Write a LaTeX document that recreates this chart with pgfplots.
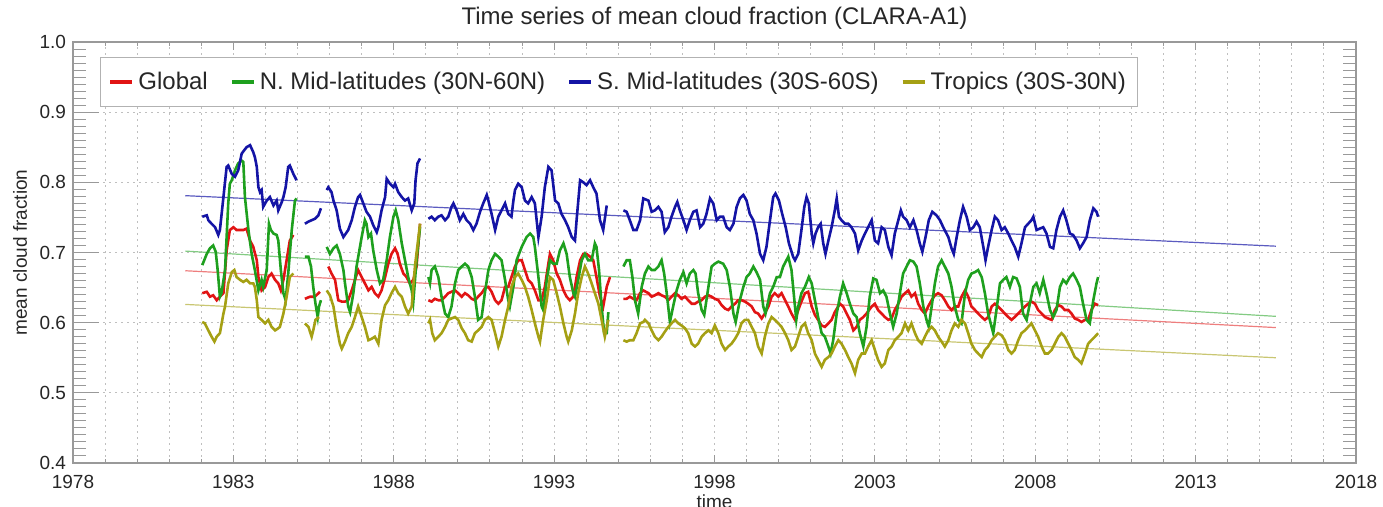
\documentclass[border=0pt]{standalone}
\usepackage{fontspec}
\setmainfont{Liberation Sans}
\usepackage{pgfplots}
\pgfplotsset{compat=1.18}
\definecolor{cred}{RGB}{225,20,20}
\definecolor{cgreen}{RGB}{30,160,30}
\definecolor{cblue}{RGB}{20,20,165}
\definecolor{colive}{RGB}{165,160,20}
\begin{document}
\begin{tikzpicture}
\begin{axis}[
  scale only axis, width=641.5pt, height=210.5pt,
  xmin=1978, xmax=2018, ymin=0.4, ymax=1.0,
  xtick={1978,1983,1988,1993,1998,2003,2008,2013,2018},
  minor x tick num=4,
  ytick={0.4,0.5,0.6,0.7,0.8,0.9,1.0},
  minor y tick num=9,
  xmajorgrids, xminorgrids, ymajorgrids,
  grid style={gray!50, dash pattern=on 1pt off 2pt, line width=0.5pt},
  minor grid style={gray!50, dash pattern=on 1pt off 2pt, line width=0.5pt},
  major tick length=13pt, minor tick length=6.5pt,
  xtick style={/pgfplots/major tick length=4pt, /pgfplots/minor tick length=2pt},
  tick style={gray!80, line width=0.5pt},
  axis line style={gray!80, line width=0.6pt},
  /pgf/number format/assume math mode=true,
  tick label style={font=\fontsize{9.5}{11}\selectfont, text=black!85},
  yticklabel style={/pgf/number format/.cd, fixed, fixed zerofill, precision=1},
  xticklabel style={yshift=-2.5pt, /pgf/number format/.cd, set thousands separator={}},
  every axis title shift=0pt,
  title={Time series of mean cloud fraction (CLARA-A1)},
  title style={font=\fontsize{12}{14}\selectfont, text=black!85, at={([yshift=11.75pt]axis description cs:0.5,1)}, anchor=center},
  ylabel={mean cloud fraction},
  ylabel style={font=\fontsize{9.5}{11}\selectfont, text=black!85, at={([xshift=-26.5pt]axis description cs:0,0.5)}, anchor=center},
  xlabel={time},
  xlabel style={font=\fontsize{9.5}{11}\selectfont, text=black!85, at={([yshift=-19.5pt]axis description cs:0.5,0)}, anchor=center},
  unbounded coords=jump,
  legend columns=4,
  legend style={at={(0.021,0.964)}, anchor=north west, draw=gray!60, line width=0.5pt,
    font=\fontsize{12}{14}\selectfont, text=black!85, inner xsep=4pt, inner ysep=5pt,
    /tikz/every even column/.append style={column sep=9pt}},
  legend image code/.code={\draw[#1, line width=2pt] (0pt,0pt) -- (11pt,0pt);},
]
% trend lines
\addplot[cred!55, line width=0.6pt, forget plot] coordinates {(1981.5,0.674) (2015.5,0.593)};
\addplot[cgreen!55, line width=0.6pt, forget plot] coordinates {(1981.5,0.702) (2015.5,0.609)};
\addplot[cblue!70, line width=0.6pt, forget plot] coordinates {(1981.5,0.781) (2015.5,0.709)};
\addplot[colive!60, line width=0.6pt, forget plot] coordinates {(1981.5,0.626) (2015.5,0.550)};

% Global
\addplot[cred, line width=1.3pt] coordinates {
(1982.03,0.642) (1982.17,0.644) (1982.27,0.637) (1982.37,0.639) (1982.48,0.632) (1982.58,0.637) (1982.69,0.642) (1982.79,0.703) (1982.89,0.732) (1983.00,0.736) (1983.10,0.732) (1983.21,0.732) (1983.31,0.732) (1983.41,0.734) (1983.52,0.717) (1983.62,0.708) (1983.73,0.689) (1983.78,0.665) (1983.88,0.646) (1983.99,0.651) (1984.09,0.665) (1984.19,0.670) (1984.30,0.661) (1984.40,0.656) (1984.48,0.646) (1984.56,0.661) (1984.66,0.689) (1984.76,0.717) (1984.87,0.725)
(1985.1,nan)
(1985.23,0.634) (1985.39,0.637) (1985.54,0.637) (1985.70,0.644)
(1985.8,nan)
(1985.96,0.680) (1986.06,0.670) (1986.17,0.661) (1986.27,0.632) (1986.38,0.630) (1986.48,0.630) (1986.58,0.632) (1986.69,0.646) (1986.79,0.661) (1986.89,0.675) (1987.00,0.665) (1987.10,0.656) (1987.21,0.646) (1987.31,0.651) (1987.41,0.642) (1987.52,0.637) (1987.62,0.646) (1987.73,0.665) (1987.83,0.684) (1987.93,0.698) (1988.04,0.706) (1988.12,0.698) (1988.19,0.684) (1988.30,0.670) (1988.40,0.665) (1988.50,0.656) (1988.61,0.661) (1988.71,0.680) (1988.82,0.741)
(1988.95,nan)
(1989.08,0.632) (1989.18,0.630) (1989.28,0.634) (1989.39,0.632) (1989.49,0.632) (1989.60,0.637) (1989.70,0.642) (1989.80,0.644) (1989.91,0.646) (1990.01,0.642) (1990.12,0.637) (1990.22,0.642) (1990.32,0.639) (1990.43,0.634) (1990.53,0.632) (1990.63,0.637) (1990.74,0.642) (1990.84,0.649) (1990.95,0.651) (1991.05,0.644) (1991.16,0.632) (1991.26,0.627) (1991.36,0.632) (1991.47,0.651) (1991.57,0.651) (1991.67,0.665) (1991.78,0.680) (1991.88,0.689) (1991.99,0.689) (1992.09,0.675) (1992.19,0.661) (1992.30,0.656) (1992.40,0.646) (1992.51,0.632) (1992.61,0.632) (1992.71,0.651) (1992.82,0.684) (1992.87,0.698) (1992.97,0.689) (1993.08,0.670) (1993.18,0.661) (1993.29,0.646) (1993.39,0.637) (1993.49,0.632) (1993.60,0.637) (1993.70,0.665) (1993.81,0.689) (1993.91,0.698) (1994.01,0.698) (1994.12,0.694) (1994.22,0.689) (1994.32,0.665) (1994.43,0.637) (1994.53,0.623) (1994.64,0.651) (1994.74,0.665)
(1994.9,nan)
(1995.16,0.634) (1995.26,0.634) (1995.36,0.637) (1995.47,0.634) (1995.57,0.632) (1995.68,0.642) (1995.78,0.646) (1995.94,0.642) (1996.04,0.637) (1996.14,0.639) (1996.25,0.642) (1996.35,0.639) (1996.45,0.637) (1996.56,0.632) (1996.66,0.637) (1996.77,0.642) (1996.87,0.639) (1996.97,0.634) (1997.08,0.637) (1997.18,0.632) (1997.29,0.627) (1997.39,0.627) (1997.49,0.630) (1997.60,0.632) (1997.70,0.637) (1997.81,0.639) (1997.91,0.637) (1998.01,0.634) (1998.12,0.632) (1998.22,0.625) (1998.33,0.620) (1998.43,0.618) (1998.53,0.623) (1998.64,0.627) (1998.74,0.632) (1998.84,0.632) (1998.95,0.630) (1999.05,0.627) (1999.16,0.623) (1999.26,0.615) (1999.36,0.613) (1999.47,0.606) (1999.57,0.613) (1999.68,0.623) (1999.78,0.637) (1999.88,0.642) (1999.99,0.637) (2000.09,0.642) (2000.20,0.632) (2000.30,0.623) (2000.40,0.613) (2000.51,0.604) (2000.61,0.618) (2000.71,0.630) (2000.82,0.642) (2000.92,0.644) (2001.03,0.623) (2001.13,0.611) (2001.23,0.604) (2001.34,0.596) (2001.44,0.594) (2001.55,0.599) (2001.65,0.604) (2001.75,0.615) (2001.91,0.627) (2002.01,0.623) (2002.12,0.613) (2002.22,0.604) (2002.33,0.589) (2002.43,0.594) (2002.53,0.604) (2002.64,0.608) (2002.74,0.613) (2002.90,0.623) (2003.00,0.627) (2003.10,0.618) (2003.21,0.613) (2003.31,0.608) (2003.42,0.604) (2003.52,0.606) (2003.62,0.618) (2003.73,0.627) (2003.83,0.637) (2003.94,0.642) (2004.04,0.646) (2004.14,0.637) (2004.25,0.642) (2004.35,0.627) (2004.46,0.618) (2004.56,0.613) (2004.66,0.623) (2004.77,0.632) (2004.87,0.639) (2004.97,0.642) (2005.08,0.639) (2005.18,0.632) (2005.29,0.623) (2005.39,0.618) (2005.49,0.623) (2005.60,0.623) (2005.70,0.637) (2005.81,0.646) (2005.91,0.637) (2006.01,0.623) (2006.12,0.618) (2006.22,0.613) (2006.33,0.608) (2006.43,0.604) (2006.53,0.608) (2006.64,0.623) (2006.74,0.627) (2006.84,0.623) (2006.95,0.618) (2007.05,0.613) (2007.16,0.608) (2007.26,0.604) (2007.36,0.608) (2007.47,0.613) (2007.57,0.618) (2007.68,0.623) (2007.78,0.627) (2007.88,0.630) (2007.99,0.627) (2008.09,0.618) (2008.20,0.613) (2008.30,0.608) (2008.40,0.606) (2008.51,0.604) (2008.61,0.618) (2008.72,0.625) (2008.82,0.623) (2008.92,0.618) (2009.03,0.618) (2009.13,0.613) (2009.23,0.606) (2009.34,0.604) (2009.44,0.601) (2009.55,0.604) (2009.65,0.604) (2009.75,0.618) (2009.86,0.627) (2009.96,0.625)
};
\addlegendentry{Global}

% N. Mid-latitudes
\addplot[cgreen, line width=1.3pt] coordinates {
(1982.03,0.682) (1982.17,0.698) (1982.27,0.706) (1982.37,0.710) (1982.45,0.701) (1982.51,0.675) (1982.58,0.637) (1982.63,0.642) (1982.74,0.675) (1982.84,0.770) (1982.89,0.798) (1982.95,0.803) (1983.05,0.817) (1983.15,0.827) (1983.26,0.831) (1983.31,0.829) (1983.36,0.779) (1983.47,0.732) (1983.57,0.698) (1983.67,0.675) (1983.78,0.646) (1983.88,0.661) (1983.93,0.651) (1984.04,0.675) (1984.11,0.741) (1984.17,0.732) (1984.25,0.727) (1984.35,0.725) (1984.40,0.717) (1984.48,0.675) (1984.56,0.642) (1984.63,0.632) (1984.71,0.670) (1984.82,0.732) (1984.92,0.774) (1984.97,0.777)
(1985.1,nan)
(1985.23,0.694) (1985.34,0.694) (1985.42,0.680) (1985.49,0.651) (1985.56,0.627) (1985.63,0.608) (1985.67,0.623) (1985.73,0.632)
(1985.8,nan)
(1985.91,0.708) (1986.01,0.698) (1986.12,0.706) (1986.22,0.710) (1986.32,0.698) (1986.43,0.675) (1986.48,0.656) (1986.58,0.623) (1986.64,0.615) (1986.74,0.642) (1986.84,0.680) (1987.00,0.722) (1987.10,0.746) (1987.15,0.741) (1987.21,0.722) (1987.29,0.727) (1987.36,0.703) (1987.47,0.675) (1987.57,0.656) (1987.67,0.661) (1987.78,0.689) (1987.88,0.722) (1987.99,0.751) (1988.06,0.760) (1988.14,0.746) (1988.25,0.713) (1988.35,0.689) (1988.45,0.665) (1988.56,0.646) (1988.61,0.630) (1988.71,0.689) (1988.82,0.736)
(1988.95,nan)
(1989.08,0.665) (1989.13,0.656) (1989.18,0.675) (1989.28,0.680) (1989.39,0.665) (1989.49,0.637) (1989.60,0.613) (1989.70,0.608) (1989.80,0.623) (1989.91,0.656) (1990.01,0.675) (1990.12,0.680) (1990.22,0.684) (1990.32,0.680) (1990.43,0.665) (1990.53,0.637) (1990.63,0.604) (1990.74,0.608) (1990.84,0.642) (1990.95,0.675) (1991.05,0.689) (1991.16,0.698) (1991.26,0.694) (1991.36,0.689) (1991.47,0.661) (1991.57,0.632) (1991.62,0.623) (1991.73,0.651) (1991.83,0.689) (1991.99,0.708) (1992.14,0.722) (1992.25,0.727) (1992.35,0.722) (1992.40,0.708) (1992.51,0.665) (1992.61,0.623) (1992.66,0.618) (1992.77,0.661) (1992.87,0.689) (1992.97,0.684) (1993.08,0.684) (1993.18,0.703) (1993.29,0.713) (1993.39,0.698) (1993.49,0.665) (1993.60,0.642) (1993.65,0.637) (1993.75,0.661) (1993.86,0.689) (1993.96,0.698) (1994.06,0.689) (1994.17,0.689) (1994.27,0.713) (1994.32,0.708) (1994.40,0.675) (1994.48,0.623) (1994.56,0.585) (1994.64,0.585) (1994.69,0.615)
(1994.9,nan)
(1995.16,0.680) (1995.26,0.689) (1995.36,0.689) (1995.44,0.665) (1995.52,0.632) (1995.62,0.613) (1995.73,0.651) (1995.83,0.670) (1995.94,0.680) (1996.04,0.675) (1996.14,0.675) (1996.25,0.680) (1996.35,0.689) (1996.43,0.670) (1996.51,0.642) (1996.61,0.601) (1996.71,0.623) (1996.82,0.646) (1996.92,0.661) (1997.03,0.672) (1997.13,0.656) (1997.23,0.670) (1997.34,0.675) (1997.41,0.670) (1997.49,0.642) (1997.60,0.618) (1997.68,0.611) (1997.81,0.651) (1997.91,0.680) (1998.01,0.684) (1998.12,0.687) (1998.27,0.684) (1998.38,0.675) (1998.48,0.651) (1998.59,0.613) (1998.66,0.601) (1998.79,0.632) (1998.90,0.651) (1999.00,0.665) (1999.10,0.670) (1999.21,0.680) (1999.31,0.672) (1999.42,0.661) (1999.52,0.623) (1999.59,0.613) (1999.73,0.642) (1999.83,0.651) (1999.94,0.665) (2000.04,0.665) (2000.14,0.680) (2000.30,0.694) (2000.40,0.675) (2000.49,0.632) (2000.55,0.604) (2000.61,0.623) (2000.71,0.642) (2000.82,0.651) (2000.94,0.665) (2001.03,0.656) (2001.13,0.632) (2001.23,0.608) (2001.34,0.585) (2001.44,0.580) (2001.55,0.566) (2001.62,0.556) (2001.70,0.575) (2001.81,0.613) (2001.91,0.637) (2002.01,0.656) (2002.12,0.642) (2002.22,0.627) (2002.33,0.613) (2002.43,0.608) (2002.53,0.585) (2002.64,0.566) (2002.74,0.594) (2002.84,0.637) (2002.95,0.663) (2003.05,0.661) (2003.16,0.642) (2003.26,0.646) (2003.36,0.637) (2003.47,0.613) (2003.57,0.594) (2003.68,0.613) (2003.78,0.642) (2003.88,0.670) (2003.99,0.680) (2004.09,0.689) (2004.20,0.687) (2004.30,0.680) (2004.40,0.656) (2004.51,0.623) (2004.61,0.604) (2004.68,0.594) (2004.77,0.623) (2004.87,0.656) (2004.97,0.680) (2005.08,0.689) (2005.18,0.680) (2005.29,0.670) (2005.39,0.651) (2005.49,0.623) (2005.60,0.604) (2005.70,0.599) (2005.81,0.642) (2005.91,0.661) (2006.01,0.670) (2006.12,0.672) (2006.22,0.675) (2006.33,0.665) (2006.43,0.642) (2006.53,0.613) (2006.69,0.585) (2006.79,0.618) (2006.90,0.656) (2007.00,0.661) (2007.10,0.665) (2007.21,0.651) (2007.31,0.665) (2007.42,0.663) (2007.52,0.651) (2007.62,0.613) (2007.73,0.604) (2007.83,0.627) (2007.94,0.651) (2008.04,0.656) (2008.14,0.642) (2008.25,0.661) (2008.35,0.642) (2008.46,0.618) (2008.56,0.608) (2008.66,0.618) (2008.77,0.651) (2008.87,0.661) (2008.97,0.656) (2009.08,0.665) (2009.18,0.670) (2009.29,0.661) (2009.39,0.651) (2009.49,0.627) (2009.60,0.604) (2009.70,0.599) (2009.81,0.632) (2009.91,0.656) (2009.96,0.665)
};
\addlegendentry{N. Mid-latitudes (30N-60N)}

% S. Mid-latitudes
\addplot[cblue, line width=1.3pt] coordinates {
(1982.03,0.751) (1982.17,0.753) (1982.22,0.746) (1982.32,0.741) (1982.43,0.736) (1982.53,0.725) (1982.58,0.732) (1982.69,0.779) (1982.79,0.822) (1982.84,0.824) (1982.95,0.812) (1983.05,0.808) (1983.15,0.817) (1983.26,0.841) (1983.41,0.850) (1983.52,0.853) (1983.62,0.843) (1983.67,0.836) (1983.73,0.822) (1983.78,0.793) (1983.83,0.786) (1983.88,0.789) (1983.93,0.765) (1984.04,0.774) (1984.14,0.779) (1984.25,0.767) (1984.35,0.774) (1984.40,0.760) (1984.51,0.772) (1984.56,0.779) (1984.63,0.793) (1984.71,0.822) (1984.76,0.824) (1984.87,0.812) (1984.97,0.803)
(1985.1,nan)
(1985.23,0.741) (1985.34,0.744) (1985.44,0.746) (1985.54,0.748) (1985.65,0.753) (1985.73,0.763)
(1985.8,nan)
(1985.91,0.789) (1985.96,0.793) (1986.06,0.786) (1986.12,0.774) (1986.22,0.760) (1986.32,0.734) (1986.43,0.722) (1986.58,0.732) (1986.69,0.746) (1986.79,0.765) (1986.89,0.779) (1986.95,0.782) (1987.05,0.770) (1987.15,0.758) (1987.26,0.751) (1987.36,0.739) (1987.47,0.729) (1987.52,0.736) (1987.62,0.760) (1987.73,0.779) (1987.78,0.805) (1987.88,0.798) (1987.99,0.793) (1988.04,0.798) (1988.14,0.786) (1988.25,0.779) (1988.35,0.774) (1988.45,0.777) (1988.56,0.760) (1988.64,0.770) (1988.68,0.803) (1988.74,0.827) (1988.82,0.834)
(1988.95,nan)
(1989.08,0.748) (1989.18,0.751) (1989.28,0.746) (1989.39,0.751) (1989.49,0.753) (1989.60,0.746) (1989.70,0.751) (1989.80,0.765) (1989.86,0.770) (1989.96,0.760) (1990.06,0.746) (1990.17,0.755) (1990.27,0.746) (1990.38,0.741) (1990.48,0.732) (1990.58,0.741) (1990.69,0.758) (1990.79,0.770) (1990.90,0.782) (1990.95,0.774) (1991.05,0.755) (1991.16,0.732) (1991.26,0.751) (1991.36,0.760) (1991.47,0.770) (1991.57,0.755) (1991.67,0.751) (1991.73,0.774) (1991.78,0.789) (1991.88,0.798) (1991.99,0.793) (1992.09,0.774) (1992.19,0.770) (1992.30,0.779) (1992.40,0.770) (1992.51,0.722) (1992.61,0.751) (1992.71,0.793) (1992.82,0.822) (1992.92,0.817) (1993.03,0.774) (1993.13,0.770) (1993.23,0.755) (1993.34,0.746) (1993.44,0.736) (1993.55,0.722) (1993.65,0.717) (1993.70,0.746) (1993.81,0.803) (1993.91,0.800) (1994.01,0.796) (1994.12,0.803) (1994.22,0.793) (1994.32,0.784) (1994.43,0.746) (1994.53,0.732) (1994.64,0.767)
(1994.9,nan)
(1995.16,0.760) (1995.26,0.758) (1995.36,0.746) (1995.47,0.732) (1995.57,0.732) (1995.68,0.746) (1995.78,0.777) (1995.94,0.774) (1996.04,0.758) (1996.14,0.760) (1996.25,0.765) (1996.35,0.758) (1996.45,0.729) (1996.56,0.736) (1996.66,0.751) (1996.77,0.765) (1996.84,0.772) (1996.92,0.760) (1997.03,0.746) (1997.13,0.732) (1997.23,0.746) (1997.34,0.758) (1997.44,0.760) (1997.55,0.736) (1997.65,0.741) (1997.75,0.755) (1997.86,0.777) (1997.96,0.770) (1998.07,0.746) (1998.17,0.751) (1998.27,0.751) (1998.38,0.736) (1998.48,0.732) (1998.59,0.741) (1998.69,0.765) (1998.79,0.777) (1998.90,0.782) (1999.00,0.774) (1999.10,0.755) (1999.21,0.746) (1999.31,0.727) (1999.42,0.698) (1999.52,0.689) (1999.62,0.708) (1999.73,0.746) (1999.83,0.779) (1999.90,0.784) (2000.01,0.774) (2000.11,0.755) (2000.22,0.736) (2000.32,0.713) (2000.45,0.694) (2000.51,0.689) (2000.61,0.698) (2000.71,0.732) (2000.80,0.765) (2000.87,0.779) (2000.94,0.770) (2001.03,0.727) (2001.08,0.713) (2001.15,0.727) (2001.23,0.736) (2001.31,0.741) (2001.39,0.713) (2001.46,0.698) (2001.55,0.717) (2001.65,0.736) (2001.75,0.760) (2001.81,0.777) (2001.88,0.751) (2001.96,0.746) (2002.07,0.741) (2002.17,0.741) (2002.27,0.736) (2002.38,0.727) (2002.48,0.703) (2002.59,0.717) (2002.69,0.727) (2002.79,0.736) (2002.90,0.746) (2003.00,0.717) (2003.10,0.713) (2003.21,0.736) (2003.31,0.732) (2003.42,0.708) (2003.52,0.696) (2003.62,0.727) (2003.73,0.746) (2003.81,0.760) (2003.88,0.751) (2003.99,0.746) (2004.09,0.736) (2004.20,0.746) (2004.30,0.732) (2004.40,0.713) (2004.48,0.701) (2004.58,0.722) (2004.68,0.746) (2004.79,0.758) (2004.92,0.753) (2005.03,0.746) (2005.13,0.736) (2005.29,0.722) (2005.39,0.706) (2005.46,0.698) (2005.55,0.722) (2005.65,0.746) (2005.75,0.765) (2005.86,0.751) (2005.96,0.732) (2006.07,0.736) (2006.17,0.744) (2006.27,0.736) (2006.38,0.708) (2006.45,0.689) (2006.53,0.708) (2006.64,0.732) (2006.74,0.751) (2006.84,0.746) (2006.95,0.732) (2007.05,0.736) (2007.16,0.727) (2007.26,0.717) (2007.36,0.708) (2007.47,0.694) (2007.57,0.713) (2007.68,0.736) (2007.78,0.741) (2007.88,0.746) (2007.94,0.751) (2008.04,0.732) (2008.14,0.734) (2008.25,0.736) (2008.35,0.727) (2008.46,0.708) (2008.56,0.706) (2008.66,0.732) (2008.77,0.751) (2008.87,0.760) (2008.97,0.746) (2009.08,0.727) (2009.18,0.725) (2009.29,0.717) (2009.39,0.706) (2009.49,0.713) (2009.60,0.722) (2009.70,0.746) (2009.81,0.763) (2009.91,0.758) (2009.96,0.751)
};
\addlegendentry{S. Mid-latitudes (30S-60S)}

% Tropics
\addplot[colive, line width=1.3pt] coordinates {
(1982.03,0.601) (1982.11,0.599) (1982.22,0.589) (1982.32,0.580) (1982.41,0.573) (1982.48,0.580) (1982.58,0.585) (1982.69,0.613) (1982.74,0.623) (1982.84,0.656) (1982.95,0.672) (1983.03,0.675) (1983.10,0.665) (1983.21,0.661) (1983.31,0.658) (1983.41,0.661) (1983.52,0.656) (1983.62,0.656) (1983.67,0.651) (1983.73,0.632) (1983.78,0.608) (1983.88,0.604) (1983.99,0.599) (1984.09,0.604) (1984.19,0.594) (1984.30,0.589) (1984.40,0.592) (1984.45,0.594) (1984.56,0.613) (1984.66,0.637) (1984.76,0.665) (1984.87,0.670)
(1985.1,nan)
(1985.23,0.599) (1985.34,0.594) (1985.44,0.580) (1985.49,0.589) (1985.56,0.604) (1985.67,0.608)
(1985.8,nan)
(1985.91,0.646) (1986.01,0.639) (1986.12,0.623) (1986.22,0.594) (1986.32,0.570) (1986.38,0.563) (1986.48,0.573) (1986.58,0.585) (1986.69,0.594) (1986.79,0.608) (1986.89,0.623) (1987.00,0.608) (1987.10,0.594) (1987.21,0.575) (1987.31,0.577) (1987.41,0.580) (1987.52,0.570) (1987.62,0.604) (1987.73,0.625) (1987.83,0.632) (1987.93,0.642) (1988.04,0.651) (1988.14,0.642) (1988.25,0.637) (1988.35,0.623) (1988.45,0.613) (1988.56,0.623) (1988.66,0.680) (1988.82,0.741)
(1988.95,nan)
(1989.08,0.599) (1989.13,0.604) (1989.20,0.585) (1989.28,0.575) (1989.39,0.580) (1989.49,0.585) (1989.60,0.594) (1989.70,0.604) (1989.80,0.606) (1989.91,0.608) (1990.01,0.604) (1990.12,0.592) (1990.22,0.585) (1990.32,0.575) (1990.43,0.573) (1990.53,0.585) (1990.63,0.589) (1990.74,0.594) (1990.84,0.604) (1990.95,0.608) (1991.05,0.604) (1991.16,0.585) (1991.26,0.566) (1991.36,0.580) (1991.47,0.604) (1991.57,0.623) (1991.67,0.651) (1991.78,0.665) (1991.88,0.670) (1991.99,0.661) (1992.09,0.651) (1992.19,0.637) (1992.30,0.618) (1992.40,0.599) (1992.51,0.580) (1992.56,0.573) (1992.66,0.604) (1992.77,0.632) (1992.87,0.665) (1992.97,0.661) (1993.08,0.642) (1993.18,0.623) (1993.29,0.599) (1993.39,0.580) (1993.44,0.573) (1993.55,0.589) (1993.65,0.613) (1993.75,0.642) (1993.86,0.665) (1993.96,0.680) (1994.06,0.670) (1994.17,0.656) (1994.27,0.642) (1994.38,0.627) (1994.48,0.604) (1994.58,0.580) (1994.69,0.604)
(1994.9,nan)
(1995.16,0.575) (1995.26,0.573) (1995.36,0.575) (1995.47,0.575) (1995.57,0.585) (1995.68,0.599) (1995.78,0.601) (1995.83,0.604) (1995.94,0.599) (1996.04,0.589) (1996.14,0.580) (1996.25,0.575) (1996.35,0.580) (1996.45,0.587) (1996.56,0.594) (1996.66,0.599) (1996.77,0.604) (1996.87,0.599) (1996.97,0.596) (1997.08,0.592) (1997.18,0.585) (1997.29,0.570) (1997.39,0.566) (1997.49,0.570) (1997.60,0.580) (1997.70,0.585) (1997.81,0.589) (1997.91,0.585) (1998.01,0.596) (1998.12,0.585) (1998.22,0.570) (1998.33,0.561) (1998.43,0.566) (1998.53,0.570) (1998.64,0.577) (1998.74,0.585) (1998.84,0.599) (1998.95,0.604) (1999.05,0.604) (1999.16,0.594) (1999.26,0.585) (1999.36,0.566) (1999.47,0.556) (1999.57,0.580) (1999.68,0.599) (1999.78,0.608) (1999.88,0.604) (1999.99,0.599) (2000.09,0.594) (2000.20,0.585) (2000.30,0.575) (2000.40,0.561) (2000.51,0.566) (2000.61,0.580) (2000.71,0.594) (2000.82,0.599) (2000.92,0.585) (2001.03,0.575) (2001.13,0.556) (2001.23,0.547) (2001.34,0.537) (2001.44,0.547) (2001.55,0.551) (2001.65,0.556) (2001.75,0.566) (2001.86,0.575) (2001.96,0.570) (2002.07,0.561) (2002.17,0.551) (2002.27,0.542) (2002.38,0.528) (2002.48,0.547) (2002.59,0.556) (2002.69,0.556) (2002.79,0.566) (2002.90,0.575) (2003.00,0.561) (2003.10,0.547) (2003.21,0.537) (2003.31,0.542) (2003.42,0.561) (2003.52,0.566) (2003.62,0.575) (2003.73,0.580) (2003.83,0.585) (2003.94,0.599) (2004.04,0.589) (2004.14,0.599) (2004.25,0.585) (2004.35,0.575) (2004.46,0.570) (2004.56,0.580) (2004.66,0.589) (2004.77,0.594) (2004.87,0.589) (2004.97,0.580) (2005.08,0.573) (2005.18,0.566) (2005.29,0.575) (2005.39,0.589) (2005.49,0.599) (2005.60,0.594) (2005.70,0.604) (2005.81,0.599) (2005.91,0.585) (2006.01,0.570) (2006.12,0.561) (2006.22,0.556) (2006.33,0.551) (2006.43,0.561) (2006.53,0.566) (2006.64,0.575) (2006.74,0.580) (2006.84,0.585) (2006.95,0.582) (2007.05,0.575) (2007.16,0.561) (2007.26,0.556) (2007.36,0.561) (2007.47,0.575) (2007.57,0.585) (2007.68,0.589) (2007.78,0.594) (2007.88,0.599) (2007.99,0.589) (2008.09,0.580) (2008.20,0.566) (2008.30,0.556) (2008.40,0.556) (2008.51,0.561) (2008.61,0.570) (2008.72,0.580) (2008.82,0.585) (2008.92,0.580) (2009.03,0.570) (2009.13,0.561) (2009.23,0.551) (2009.34,0.547) (2009.44,0.542) (2009.55,0.556) (2009.65,0.570) (2009.75,0.575) (2009.86,0.580) (2009.96,0.585)
};
\addlegendentry{Tropics (30S-30N)}
\end{axis}
\pgfresetboundingbox
\path[use as bounding box] ([shift={(-36.5pt,-22pt)}]current axis.south west) rectangle ([shift={(13.5pt,21pt)}]current axis.north east);
\end{tikzpicture}
\end{document}
